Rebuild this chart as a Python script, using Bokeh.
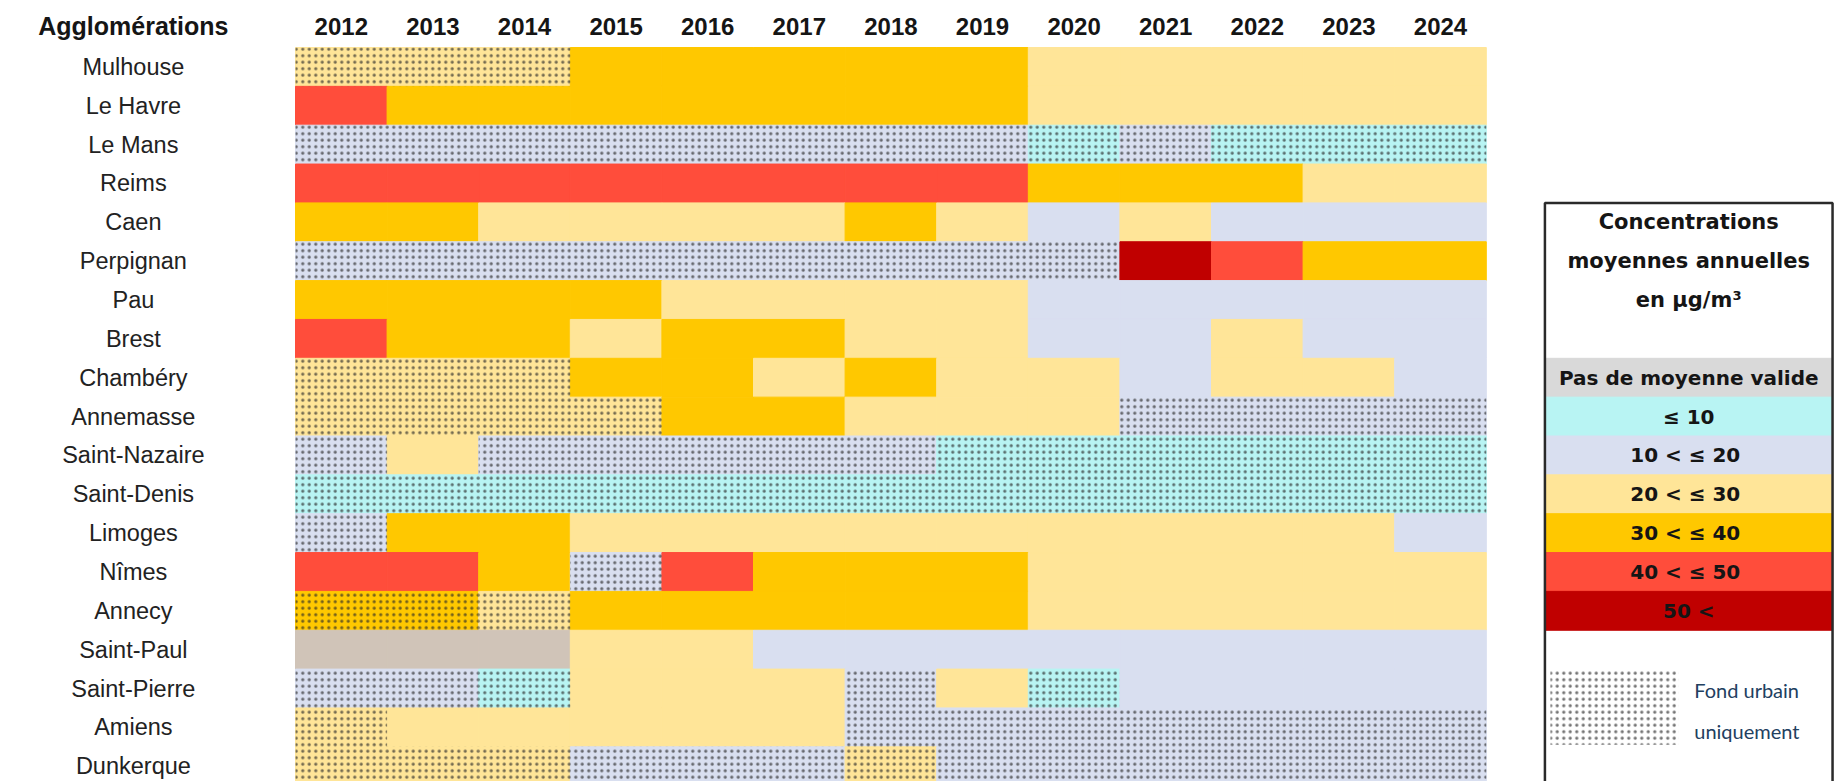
from bokeh.plotting import figure
from bokeh.models import ColumnDataSource, Range1d
from bokeh.embed import file_html
from bokeh.resources import INLINE
from bokeh.core.properties import value

# ---------------- data ----------------
years = ["2012", "2013", "2014", "2015", "2016", "2017", "2018",
         "2019", "2020", "2021", "2022", "2023", "2024"]

cities = ["Mulhouse", "Le Havre", "Le Mans", "Reims", "Caen", "Perpignan",
          "Pau", "Brest", "Chambéry", "Annemasse", "Saint-Nazaire",
          "Saint-Denis", "Limoges", "Nîmes", "Annecy", "Saint-Paul",
          "Saint-Pierre", "Amiens", "Dunkerque"]

# concentration class per year: 0 = no valid mean, 1 = <=10, 2 = 10-20,
# 3 = 20-30, 4 = 30-40, 5 = 40-50, 6 = >50
mulhouse      = [3, 3, 3, 4, 4, 4, 4, 4, 3, 3, 3, 3, 3]
le_havre      = [5, 4, 4, 4, 4, 4, 4, 4, 3, 3, 3, 3, 3]
le_mans       = [2, 2, 2, 2, 2, 2, 2, 2, 1, 2, 1, 1, 1]
reims         = [5, 5, 5, 5, 5, 5, 5, 5, 4, 4, 4, 3, 3]
caen          = [4, 4, 3, 3, 3, 3, 4, 3, 2, 3, 2, 2, 2]
perpignan     = [2, 2, 2, 2, 2, 2, 2, 2, 2, 6, 5, 4, 4]
pau           = [4, 4, 4, 4, 3, 3, 3, 3, 2, 2, 2, 2, 2]
brest         = [5, 4, 4, 3, 4, 4, 3, 3, 2, 2, 3, 2, 2]
chambery      = [3, 3, 3, 4, 4, 3, 4, 3, 3, 2, 3, 3, 2]
annemasse     = [3, 3, 3, 3, 4, 4, 3, 3, 3, 2, 2, 2, 2]
saint_nazaire = [2, 3, 2, 2, 2, 2, 2, 1, 1, 1, 1, 1, 1]
saint_denis   = [1, 1, 1, 1, 1, 1, 1, 1, 1, 1, 1, 1, 1]
limoges       = [2, 4, 4, 3, 3, 3, 3, 3, 3, 3, 3, 3, 2]
nimes         = [5, 5, 4, 2, 5, 4, 4, 4, 3, 3, 3, 3, 3]
annecy        = [4, 4, 3, 4, 4, 4, 4, 4, 3, 3, 3, 3, 3]
saint_paul    = [0, 0, 0, 3, 3, 2, 2, 2, 2, 2, 2, 2, 2]
saint_pierre  = [2, 2, 1, 3, 3, 3, 2, 3, 1, 2, 2, 2, 2]
amiens        = [3, 3, 3, 3, 3, 3, 2, 2, 2, 2, 2, 2, 2]
dunkerque     = [3, 3, 3, 2, 2, 2, 3, 2, 2, 2, 2, 2, 2]

levels = [mulhouse, le_havre, le_mans, reims, caen, perpignan, pau, brest,
          chambery, annemasse, saint_nazaire, saint_denis, limoges, nimes,
          annecy, saint_paul, saint_pierre, amiens, dunkerque]

# 1 = urban background stations only (dotted cells)
fond_urbain = [
    [1, 1, 1, 0, 0, 0, 0, 0, 0, 0, 0, 0, 0],  # Mulhouse
    [0, 0, 0, 0, 0, 0, 0, 0, 0, 0, 0, 0, 0],  # Le Havre
    [1, 1, 1, 1, 1, 1, 1, 1, 1, 1, 1, 1, 1],  # Le Mans
    [0, 0, 0, 0, 0, 0, 0, 0, 0, 0, 0, 0, 0],  # Reims
    [0, 0, 0, 0, 0, 0, 0, 0, 0, 0, 0, 0, 0],  # Caen
    [1, 1, 1, 1, 1, 1, 1, 1, 1, 0, 0, 0, 0],  # Perpignan
    [0, 0, 0, 0, 0, 0, 0, 0, 0, 0, 0, 0, 0],  # Pau
    [0, 0, 0, 0, 0, 0, 0, 0, 0, 0, 0, 0, 0],  # Brest
    [1, 1, 1, 0, 0, 0, 0, 0, 0, 0, 0, 0, 0],  # Chambéry
    [1, 1, 1, 1, 0, 0, 0, 0, 0, 1, 1, 1, 1],  # Annemasse
    [1, 0, 1, 1, 1, 1, 1, 1, 1, 1, 1, 1, 1],  # Saint-Nazaire
    [1, 1, 1, 1, 1, 1, 1, 1, 1, 1, 1, 1, 1],  # Saint-Denis
    [1, 0, 0, 0, 0, 0, 0, 0, 0, 0, 0, 0, 0],  # Limoges
    [0, 0, 0, 1, 0, 0, 0, 0, 0, 0, 0, 0, 0],  # Nîmes
    [1, 1, 1, 0, 0, 0, 0, 0, 0, 0, 0, 0, 0],  # Annecy
    [0, 0, 0, 0, 0, 0, 0, 0, 0, 0, 0, 0, 0],  # Saint-Paul
    [1, 1, 1, 0, 0, 0, 1, 0, 1, 0, 0, 0, 0],  # Saint-Pierre
    [1, 0, 0, 0, 0, 0, 1, 1, 1, 1, 1, 1, 1],  # Amiens
    [1, 1, 1, 1, 1, 1, 1, 1, 1, 1, 1, 1, 1],  # Dunkerque
]

legend_title = ["Concentrations", "moyennes annuelles", "en µg/m³"]
legend_labels = ["Pas de moyenne valide", "≤ 10", "10 <  ≤ 20", "20 <  ≤ 30",
                 "30 <  ≤ 40", "40 <  ≤ 50", "50 <"]
pattern_label = ["Fond urbain", "uniquement"]
header = "Agglomérations"

# ---------------- styles ----------------
CELL_COLORS = ["#D0C4B8", "#B8F4F3", "#D9DFF0", "#FFE598", "#FFC800",
               "#FF4D3B", "#C00000"]
LEGEND_COLORS = ["#D9D9D9"] + CELL_COLORS[1:]
TXT = "#151515"
HATCH = dict(hatch_pattern=".", hatch_color="#2a2a2a", hatch_alpha=0.65,
             hatch_scale=6.5, hatch_weight=1.6)

W, H = 1835, 781
COL_PX, ROW_PX = 91.6, 38.85
GRID_LEFT_PX, GRID_TOP_PX = 295.0, 47.0

x0 = -GRID_LEFT_PX / COL_PX
x1 = (W - GRID_LEFT_PX) / COL_PX
y_top = -GRID_TOP_PX / ROW_PX
y_bot = (H - GRID_TOP_PX) / ROW_PX

p = figure(width=W, height=H, output_backend="svg", toolbar_location=None,
           x_range=Range1d(x0, x1), y_range=Range1d(y_bot, y_top),
           x_axis_type=None, y_axis_type=None, min_border=0)
p.grid.visible = False
p.outline_line_color = None
p.background_fill_color = "white"
p.border_fill_color = "white"

# ---------------- heatmap cells ----------------
left, right, top, bottom, color = [], [], [], [], []
hl, hr, ht, hb = [], [], [], []
for r, (row_lv, row_fu) in enumerate(zip(levels, fond_urbain)):
    for c, (lv, fu) in enumerate(zip(row_lv, row_fu)):
        left.append(c); right.append(c + 1)
        top.append(r); bottom.append(r + 1)
        color.append(CELL_COLORS[lv])
        if fu:
            hl.append(c); hr.append(c + 1); ht.append(r); hb.append(r + 1)

p.quad(left="left", right="right", top="top", bottom="bottom",
       fill_color="color", line_color="color", line_width=1,
       source=ColumnDataSource(dict(left=left, right=right, top=top,
                                    bottom=bottom, color=color)))
p.quad(left=hl, right=hr, top=ht, bottom=hb, fill_alpha=0, line_color=None,
       **HATCH)

# ---------------- labels ----------------
p.text(x=[i + 0.5 for i in range(len(years))], y=[-0.55] * len(years),
       text=years, text_font=value("Liberation Sans"), text_font_size="24px",
       text_font_style="bold", text_color=TXT, text_align="center",
       text_baseline="middle")
label_x = -1.77
p.text(x=[label_x], y=[-0.55], text=[header], text_font=value("Liberation Sans"),
       text_font_size="25px", text_font_style="bold", text_color=TXT,
       text_align="center", text_baseline="middle")
p.text(x=[label_x] * len(cities), y=[r + 0.5 for r in range(len(cities))],
       text=cities, text_font=value("Liberation Sans"), text_font_size="23.5px",
       text_color="#222222", text_align="center", text_baseline="middle")

# ---------------- legend ----------------
lg_l, lg_r = 13.64, 16.78
lg_c = (lg_l + lg_r) / 2
p.quad(left=[lg_l], right=[lg_r], top=[4], bottom=[y_bot + 1],
       fill_color="white", line_color=None)
n = len(legend_labels)
p.quad(left=[lg_l] * n, right=[lg_r] * n, top=[8 + i for i in range(n)],
       bottom=[9 + i for i in range(n)], fill_color=LEGEND_COLORS,
       line_color=LEGEND_COLORS, line_width=1)
p.quad(left=[lg_l], right=[lg_r], top=[4], bottom=[y_bot + 1],
       fill_color=None, line_color="#2a2a2a", line_width=2.5)
p.text(x=[lg_c] * len(legend_title), y=[4.5 + i for i in range(len(legend_title))],
       text=legend_title, text_font=value("DejaVu Sans"), text_font_size="21px",
       text_font_style="bold", text_color=TXT, text_align="center",
       text_baseline="middle")
p.text(x=[lg_c] * n, y=[8.5 + i for i in range(n)], text=legend_labels,
       text_font=value("DejaVu Sans"), text_font_size="20px",
       text_font_style="bold", text_color=TXT, text_align="center",
       text_baseline="middle")
# pattern swatch
p.quad(left=[13.70], right=[15.10], top=[16.0], bottom=[17.95],
       fill_alpha=0, line_color=None, **HATCH)
p.text(x=[15.27] * 2, y=[16.55, 17.6], text=pattern_label,
       text_font=value("Lato"), text_font_size="20px", text_color="#22405f",
       text_align="left", text_baseline="middle")

open("out.html", "w").write(file_html(p, INLINE))
